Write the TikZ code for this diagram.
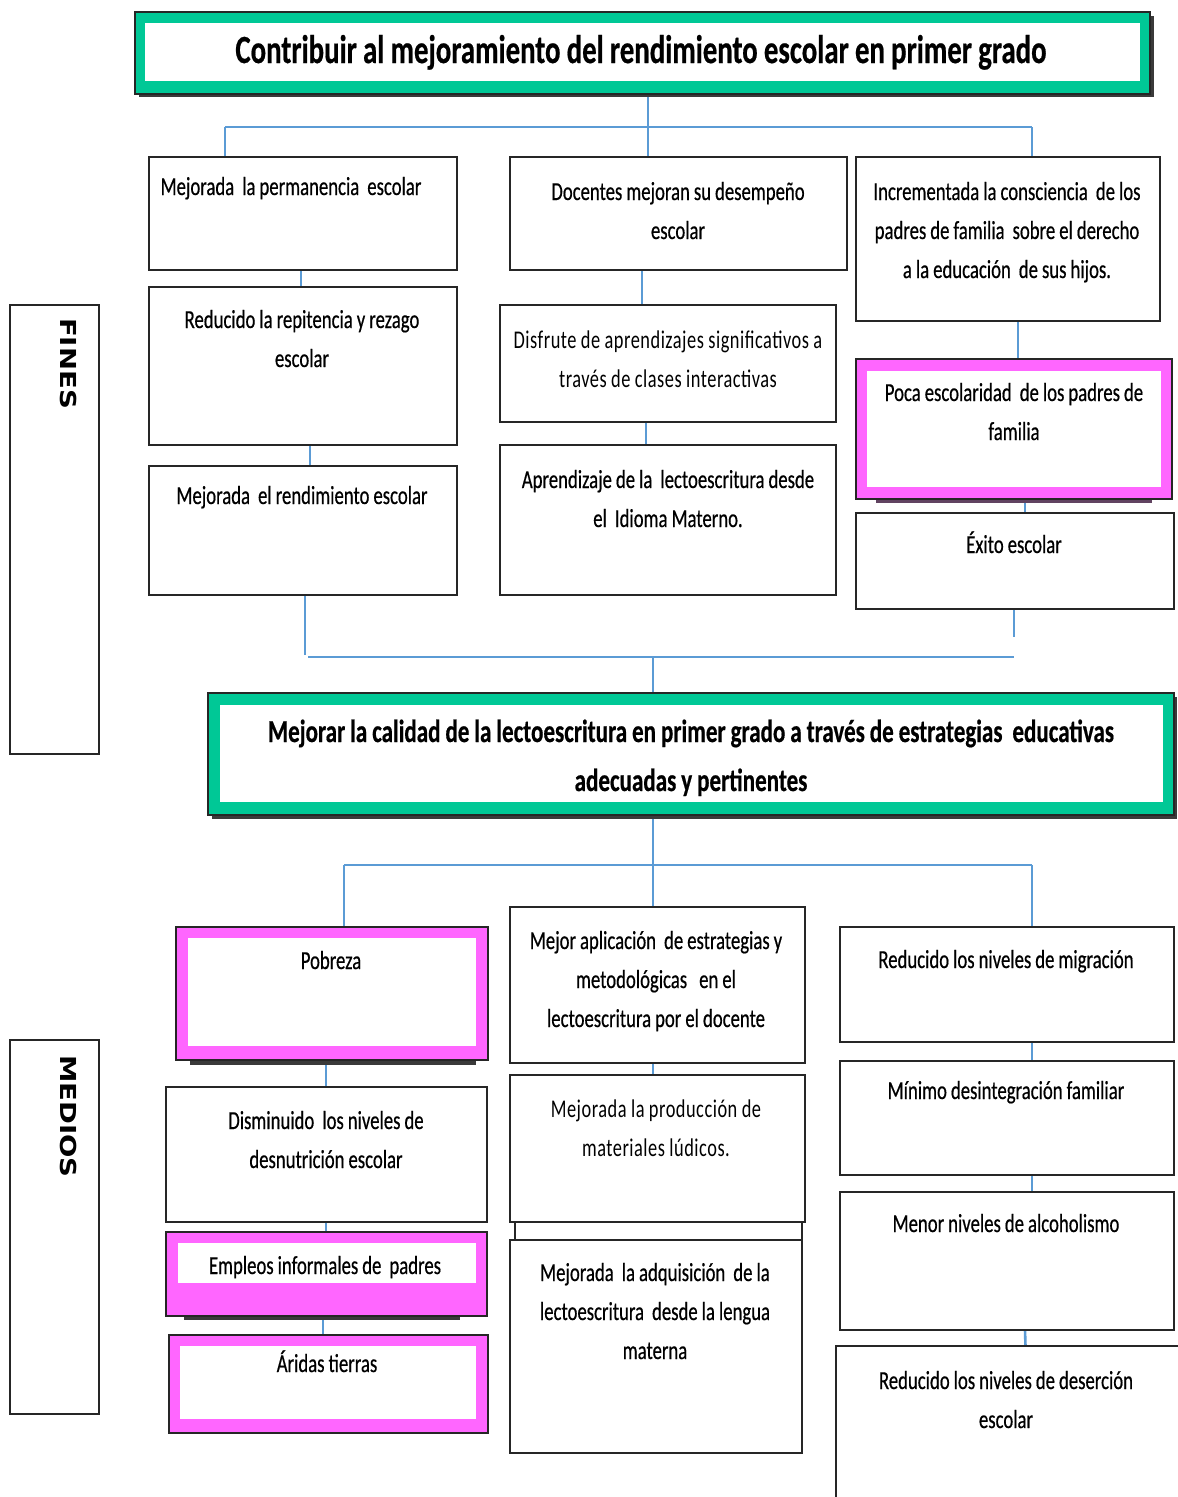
\documentclass[tikz,border=0pt]{standalone}
\usepackage{fontspec}
\setmainfont{Carlito}[FakeStretch=0.72, WordSpace=0.95, FakeBold=0.5]
\newfontfamily\lightfont{Carlito}[FakeStretch=0.72, WordSpace=0.95, LetterSpace=2]
\newfontfamily\labfont{DejaVu Sans}[FakeStretch=1.25]
\usetikzlibrary{backgrounds}
\pgfdeclarelayer{paper}
\pgfsetlayers{paper,background,main}
\definecolor{grn}{HTML}{00C896}
\definecolor{mag}{HTML}{FF66FF}
\definecolor{cn}{HTML}{5B9BD5}
\definecolor{shd}{HTML}{3A3A3A}
\tikzset{
 box/.style={draw=black!85, line width=1.8, fill=white, inner sep=0, outer sep=0},
 gbox/.style={fill=grn},
 mbox/.style={fill=mag},
 txt/.style={text width=420, align=flush center, inner sep=0, anchor=base, font=\fontsize{26}{39}\selectfont},
 ltxt/.style={txt, font=\lightfont\fontsize{25.5}{39}\selectfont},
 conn/.style={draw=cn, line width=2.6},
 lab/.style={rotate=-90, anchor=west, inner sep=0, font=\labfont\bfseries\fontsize{22}{22}\selectfont}
}
\newcommand\bx[6][]{\node[box,#1,minimum width={(#5)-(#3)},minimum height={(#6)-(#4)}] (#2) at ({((#3)+(#5))/2},{-((#4)+(#6))/2}) {};}
\newcommand\wt[4]{\fill[white] (#1,-#2) rectangle (#3,-#4);}
\begin{document}
\begin{tikzpicture}[x=1pt,y=1pt]
\useasboundingbox (0,0) rectangle (1178,-1497);
\begin{pgfonlayer}{paper}
\fill[white] (0,0) rectangle (1178,-1497);
\end{pgfonlayer}

% side labels
\bx{fl}{10}{305}{99}{754}
\node[lab] (flt) at (68.5,-318) {FINES};
\bx{ml}{10}{1040}{99}{1414}
\node[lab] (mlt) at (68.5,-1055) {MEDIOS};

% top title
\fill[shd] (139,-16) rectangle (1154,-97);
\bx[gbox]{t1}{135}{12}{1150}{94}
\wt{145}{23}{1140}{81}
\node[font=\bfseries\fontsize{40}{48}\selectfont, anchor=base, inner sep=0] (t1t) at (641,-63) {Contribuir al mejoramiento del rendimiento escolar en primer grado};

% FINES column 1
\bx{b1}{149}{157}{457}{270}
\node[txt] (b1t) at (291,-195) {Mejorada\ \ la permanencia\ \ escolar};
\bx{b2}{149}{287}{457}{445}
\node[txt] (b2t) at (302,-328) {Reducido la repitencia y rezago\\escolar};
\bx{b3}{149}{466}{457}{595}
\node[txt] (b3t) at (302,-504) {Mejorada\ \ el rendimiento escolar};

% FINES column 2
\bx{c1}{510}{157}{847}{270}
\node[txt] (c1t) at (678,-200) {Docentes mejoran su desempeño\\escolar};
\bx{c2}{500}{305}{836}{422}
\node[ltxt] (c2t) at (668,-348) {Disfrute de aprendizajes significativos a\\través de clases interactivas};
\bx{c3}{500}{445}{836}{595}
\node[txt] (c3t) at (668,-488) {Aprendizaje de la\ \ lectoescritura desde\\el\ \ Idioma Materno.};

% FINES column 3
\bx{d1}{856}{157}{1160}{321}
\node[txt] (d1t) at (1007,-200) {Incrementada la consciencia\ \ de los\\padres de familia\ \ sobre el derecho\\a la educación\ \ de sus hijos.};
\fill[shd!80!mag] (876,-497) rectangle (1152,-503);
\bx[mbox]{d2}{856}{359}{1172}{499}
\wt{867}{371}{1161}{487}
\node[txt] (d2t) at (1014,-401) {Poca escolaridad\ \ de los padres de\\familia};
\bx{d3}{856}{513}{1174}{609}
\node[txt] (d3t) at (1014,-553) {Éxito escolar};

% middle title
\fill[shd] (212,-697) rectangle (1177,-819);
\bx[gbox]{t2}{208}{693}{1174}{815}
\wt{220}{705}{1163}{802}
\node[txt, text width=1000, font=\bfseries\fontsize{32}{49}\selectfont] (t2t) at (691,-742) {Mejorar la calidad de la lectoescritura en primer grado a través de estrategias\ \ educativas\\adecuadas y pertinentes};

% MEDIOS column 1
\fill[shd] (190,-1058) rectangle (476,-1065);
\bx[mbox]{e1}{176}{927}{488}{1060}
\wt{188}{938}{476}{1046}
\node[txt] (e1t) at (331,-969) {Pobreza};
\bx{e2}{166}{1087}{487}{1222}
\node[txt] (e2t) at (326,-1129) {Disminuido\ \ los niveles de\\desnutrición escolar};
\fill[shd] (184,-1314) rectangle (460,-1320);
\bx[mbox]{e3}{166}{1232}{487}{1316}
\wt{178}{1243}{476}{1283}
\node[txt] (e3t) at (325,-1274) {Empleos informales de\ \ padres};
\bx[mbox]{e4}{169}{1335}{488}{1433}
\wt{180}{1346}{476}{1419}
\node[txt] (e4t) at (327,-1372) {Áridas tierras};

% MEDIOS column 2
\bx{f1}{510}{907}{805}{1063}
\node[txt] (f1t) at (656,-949) {Mejor aplicación\ \ de estrategias y\\metodológicas\ \ \ en el\\lectoescritura por el docente};
\bx{f2}{510}{1075}{805}{1222}
\node[ltxt] (f2t) at (656,-1117) {Mejorada la producción de\\materiales lúdicos.};
\bx{f3back}{515}{1222}{802}{1320}
\bx{f3}{510}{1240}{802}{1453}
\node[txt] (f3t) at (655,-1281) {Mejorada\ \ la adquisición\ \ de la\\lectoescritura\ \ desde la lengua\\materna};

% MEDIOS column 3
\bx{g1}{840}{927}{1174}{1042}
\node[txt] (g1t) at (1006,-968) {Reducido los niveles de migración};
\bx{g2}{840}{1061}{1174}{1175}
\node[txt] (g2t) at (1006,-1099) {Mínimo desintegración familiar};
\bx{g3}{840}{1192}{1174}{1330}
\node[txt] (g3t) at (1006,-1232) {Menor niveles de alcoholismo};
\bx{g4}{836}{1346}{1186}{1505}
\node[txt] (g4t) at (1006,-1389) {Reducido los niveles de deserción\\escolar};

% connectors
\coordinate (jL) at (225,-127);
\coordinate (jM) at (648,-127);
\coordinate (jR) at (1032,-127);
\coordinate (kL) at (308,-657);
\coordinate (kM) at (653,-657);
\coordinate (kR) at (1014,-657);
\coordinate (kB) at (305,-655);
\coordinate (kD) at (1014,-637);
\coordinate (mL) at (344,-865);
\coordinate (mM) at (653,-865);
\coordinate (mR) at (1032,-865);
\begin{pgfonlayer}{background}
\draw[conn] (jM |- t1.south) -- (jM);
\draw[conn] (jL) -- (jR);
\draw[conn] (jL) -- (jL |- b1.north);
\draw[conn] (jM) -- (jM |- c1.north);
\draw[conn] (jR) -- (jR |- d1.north);
\draw[conn] ([xshift=-2]b1.south) -- ([xshift=-2]b2.north);
\draw[conn] ([xshift=7]b2.south) -- ([xshift=7]b3.north);
\draw[conn] (kB |- b3.south) -- (kB);
\draw[conn] ([xshift=-36.5]c1.south) -- ([xshift=-26]c2.north);
\draw[conn] ([xshift=-22]c2.south) -- ([xshift=-22]c3.north);
\draw[conn] ([xshift=10]d1.south) -- ([xshift=4]d2.north);
\draw[conn] ([xshift=11]d2.south) -- ([xshift=10]d3.north);
\draw[conn] (kD |- d3.south) -- (kD);
\draw[conn] (kL) -- (kR);
\draw[conn] (kM) -- (kM |- t2.north);
\draw[conn] (mM |- t2.south) -- (mM);
\draw[conn] (mL) -- (mR);
\draw[conn] (mL) -- (mL |- e1.north);
\draw[conn] (mM) -- (mM |- f1.north);
\draw[conn] (mR) -- (mR |- g1.north);
\draw[conn] ([xshift=-6]e1.south) -- ([xshift=-0.5]e2.north);
\draw[conn] ([xshift=-0.5]e2.south) -- ([xshift=-0.5]e3.north);
\draw[conn] ([xshift=-3.5]e3.south) -- ([xshift=-5.5]e4.north);
\draw[conn] ([xshift=-4.5]f1.south) -- ([xshift=-4.5]f2.north);
\draw[conn] ([xshift=25]g1.south) -- ([xshift=25]g2.north);
\draw[conn] ([xshift=25]g2.south) -- ([xshift=25]g3.north);
\draw[conn] ([xshift=18]g3.south) -- ([xshift=14.5]g4.north);
\end{pgfonlayer}
\end{tikzpicture}
\end{document}
